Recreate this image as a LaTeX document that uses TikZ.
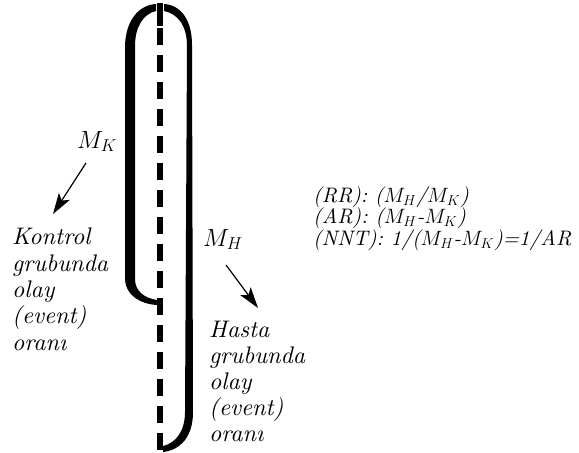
\documentclass[tikz,border=0pt]{standalone}
\usepackage{fontspec}
\setmainfont{lmroman10}[Extension=.otf, UprightFont=*-regular, ItalicFont=*-italic, BoldFont=*-bold, BoldItalicFont=*-bolditalic]
\usetikzlibrary{arrows.meta}
\begin{document}
\lineskiplimit=-50pt
\begin{tikzpicture}[x=1pt,y=-1pt,
  lbl/.style={inner sep=0pt, anchor=base west, align=left,
    font=\fontsize{24}{26.3}\selectfont\itshape},
  formula/.style={inner sep=0pt, anchor=base west, align=left,
    font=\fontsize{21}{21.5}\selectfont\itshape},
  pointer/.style={line width=1.2pt, -{Stealth[length=21pt,width=13pt,inset=5pt]}},
  brace/.style={fill=black, draw=none},
  axis/.style={line width=6pt, draw=black}]
\useasboundingbox (0,0) rectangle (579,453);
% left bracket
\fill[brace] (156,4) .. controls (139,5) and (126,20) .. (125,45)
  -- (125,280) .. controls (126,295) and (140,304) .. (157,305)
  -- (157,300) .. controls (144,298) and (135,291) .. (135,279)
  -- (135,46) .. controls (135,27) and (143,14) .. (156,11) -- cycle;
% right bracket
\fill[brace] (164,4) .. controls (181,5) and (192,20) .. (192,45)
  -- (193,412) .. controls (193,436) and (181,450) .. (163,452)
  -- (163,446) .. controls (176,443) and (185,431) .. (185,412)
  -- (187,46) .. controls (187,27) and (179,14) .. (164,11) -- cycle;
% dashed axis
\coordinate (ax0) at (160,3);
\coordinate (ax1) at (160,26);
\coordinate (ax2) at (160,28);
\coordinate (ax3) at (160,453);
\draw[axis] (ax0) -- (ax1);
\draw[axis, dash pattern=on 17pt off 10pt] (ax2) -- (ax3);
% labels
\node[lbl] (mk) at (77,148) {$M_K$};
\node[lbl] (kontrol) at (12,350) {Kontrol\\grubunda\\olay\\(event)\\oran\i};
\node[lbl] (mh) at (203,246) {$M_H$};
\node[lbl, font=\fontsize{24}{26}\selectfont\itshape] (hasta) at (209,441) {Hasta\\grubunda\\olay\\(event)\\oran\i};
\node[formula] (rr) at (313,245) {(RR): ($M_H$/$M_K$)\\(AR): ($M_H$-$M_K$)\\(NNT): 1/($M_H$-$M_K$)=1/AR};
% arrows
\coordinate (mks) at (86,163);
\coordinate (mke) at (53,214);
\coordinate (mhs) at (226,265);
\coordinate (mhe) at (258,308);
\draw[pointer] (mks) -- (mke);
\draw[pointer] (mhs) -- (mhe);
\end{tikzpicture}
\end{document}
